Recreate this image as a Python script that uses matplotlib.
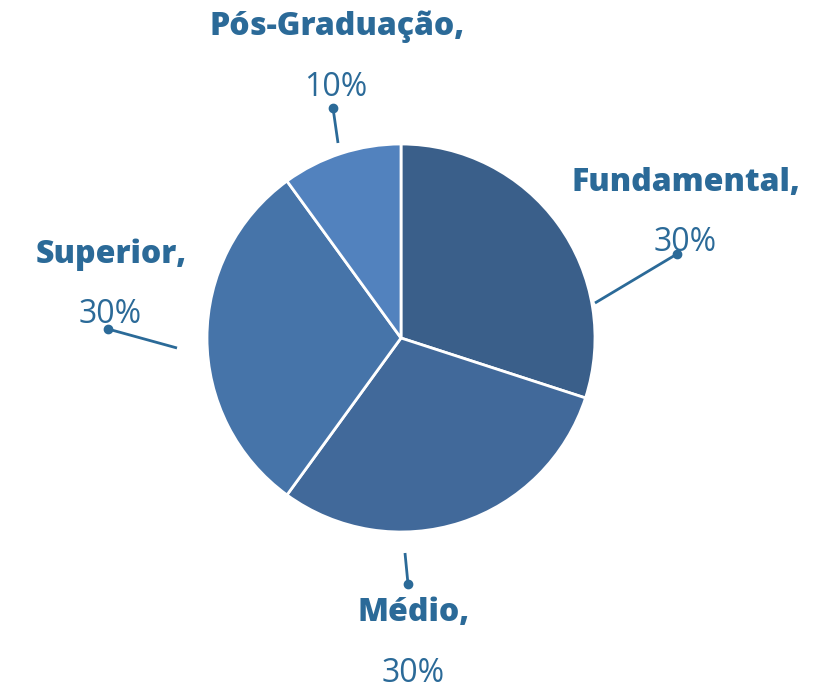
import matplotlib
matplotlib.use("Agg")
import matplotlib.pyplot as plt

categorias = ['Fundamental', 'Médio', 'Superior', 'Pós-Graduação']
valores = [30, 30, 30, 10]
cores = ['#3a5f8a', '#41699a', '#4674a9', '#5282be']

# posicoes dos rotulos (pixels, origem no canto superior esquerdo)
rotulos_xy = [(686, 183), (414, 613), (111, 255), (337, 27)]
linha_ini = [(595, 303), (405, 553), (177, 348), (338, 143)]
linha_fim = [(677, 254), (408, 584), (108, 329), (333, 108)]

W, H = 837, 692
cor_txt = '#2b6a98'

fig = plt.figure(figsize=(W / 100, H / 100), dpi=100)
ax = fig.add_axes([0, 0, 1, 1])

ax.pie(valores, colors=cores, startangle=90, counterclock=False,
       center=(401, H - 338), radius=194, frame=True,
       wedgeprops=dict(edgecolor='white', linewidth=2))
ax.set_xlim(0, W)
ax.set_ylim(0, H)
ax.set_aspect('equal')
ax.axis('off')

for cat, v, (tx, ty), (x0, y0), (x1, y1) in zip(categorias, valores, rotulos_xy, linha_ini, linha_fim):
    ax.plot([x0, x1], [H - y0, H - y1], color=cor_txt, lw=2, solid_capstyle='butt')
    ax.plot(x1, H - y1, 'o', color=cor_txt, ms=6)
    ax.text(tx, H - ty, cat + ',', ha='center', va='center', fontsize=23,
            fontweight='heavy', color=cor_txt, family='Open Sans')
    ax.text(tx - 1, H - ty - 60, f'{v}%', ha='center', va='center', fontsize=23,
            color=cor_txt, family='Open Sans')

fig.savefig('out.png', dpi=100)
